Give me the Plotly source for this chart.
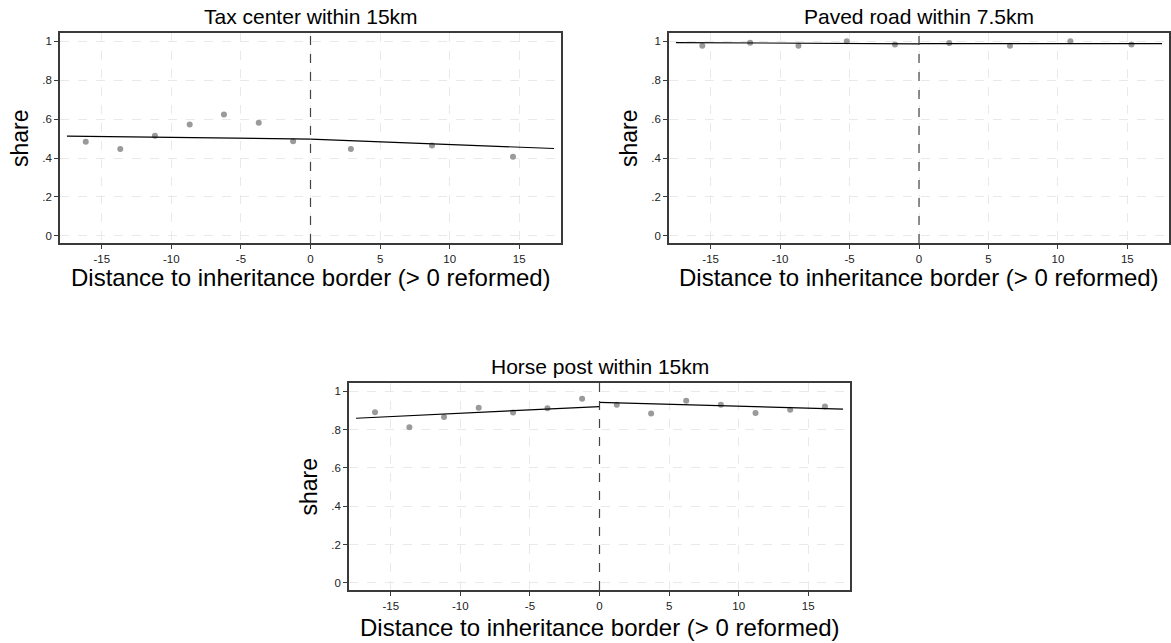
import plotly.graph_objects as go

# ---------------- data ----------------
titles = ["Tax center within 15km", "Paved road within 7.5km", "Horse post within 15km"]

tax_x = [-16.15, -13.67, -11.18, -8.68, -6.22, -3.72, -1.25, 2.9, 8.73, 14.55]
tax_y = [0.484, 0.446, 0.514, 0.573, 0.624, 0.581, 0.486, 0.446, 0.465, 0.406]
tax_fit_left_x = [-17.5, 0]
tax_fit_left_y = [0.513, 0.497]
tax_fit_right_x = [0, 17.5]
tax_fit_right_y = [0.497, 0.449]

road_x = [-15.6, -12.16, -8.68, -5.2, -1.73, 2.18, 6.55, 10.9, 15.3]
road_y = [0.978, 0.993, 0.978, 1.0, 0.984, 0.991, 0.977, 1.0, 0.984]
road_fit_left_x = [-17.5, 0]
road_fit_left_y = [0.994, 0.987]
road_fit_right_x = [0, 17.5]
road_fit_right_y = [0.988, 0.988]

horse_x = [-16.13, -13.66, -11.17, -8.68, -6.21, -3.74, -1.25, 1.24, 3.71, 6.23, 8.72, 11.21, 13.70, 16.2]
horse_y = [0.890, 0.812, 0.865, 0.914, 0.889, 0.911, 0.961, 0.930, 0.884, 0.950, 0.930, 0.887, 0.904, 0.920]
horse_fit_left_x = [-17.5, 0]
horse_fit_left_y = [0.859, 0.920]
horse_fit_right_x = [0, 17.5]
horse_fit_right_y = [0.942, 0.907]

x_ticks = [-15, -10, -5, 0, 5, 10, 15]
x_tick_labels = ["-15", "-10", "-5", "0", "5", "10", "15"]
y_ticks = [0, 0.2, 0.4, 0.6, 0.8, 1.0]
y_tick_labels = ["0", ".2", ".4", ".6", ".8", "1"]

xlabel = "Distance to inheritance border (> 0 reformed)"
ylabel = "share"

# ---------------- layout geometry ----------------
W, H = 1171, 643
panels = [
    dict(x0=60, x1=561, y0=33, y1=243, xl=35),
    dict(x0=669, x1=1169, y0=33, y1=243, xl=35),
    dict(x0=349, x1=850, y0=383, y1=590, xl=37),
]
series = [
    (tax_x, tax_y, tax_fit_left_x, tax_fit_left_y, tax_fit_right_x, tax_fit_right_y),
    (road_x, road_y, road_fit_left_x, road_fit_left_y, road_fit_right_x, road_fit_right_y),
    (horse_x, horse_y, horse_fit_left_x, horse_fit_left_y, horse_fit_right_x, horse_fit_right_y),
]

fig = go.Figure()
FONT = "Liberation Sans, Arial, sans-serif"
annotations = []
shapes = []

for i, (p, s) in enumerate(zip(panels, series)):
    n = "" if i == 0 else str(i + 1)
    xa, ya = "x" + n, "y" + n
    px, py, lx, ly, rx, ry = s
    fig.add_trace(go.Scatter(x=px, y=py, mode="markers", xaxis=xa, yaxis=ya,
                             marker=dict(color="#9a9a9a", size=6), showlegend=False))
    fig.add_trace(go.Scatter(x=lx, y=ly, mode="lines", xaxis=xa, yaxis=ya,
                             line=dict(color="black", width=1.2), showlegend=False))
    fig.add_trace(go.Scatter(x=rx, y=ry, mode="lines", xaxis=xa, yaxis=ya,
                             line=dict(color="black", width=1.2), showlegend=False))

    axcommon = dict(showgrid=True, gridcolor="#e9e9e9", griddash="dash", gridwidth=1,
                    zeroline=False, showline=True, linecolor="#3a3a3a", linewidth=1.5,
                    mirror=True, ticks="outside", ticklen=4, tickcolor="#3a3a3a",
                    tickfont=dict(family=FONT, size=11.5, color="#222"))
    fig.layout["xaxis" + n] = dict(
        axcommon, domain=[p["x0"] / W, p["x1"] / W], range=[-18, 18],
        tickvals=x_ticks, ticktext=x_tick_labels, anchor=ya)
    fig.layout["yaxis" + n] = dict(
        axcommon, domain=[1 - p["y1"] / H, 1 - p["y0"] / H], range=[-0.037, 1.043],
        tickvals=y_ticks, ticktext=y_tick_labels, anchor=xa)

    shapes.append(dict(type="line", xref=xa, yref=ya + " domain", x0=0, x1=0, y0=0, y1=1,
                       line=dict(color="#444", width=1.2, dash="dash")))

    cx = (p["x0"] + p["x1"]) / 2 / W
    annotations.append(dict(text=titles[i], x=cx, y=1 - (p["y0"] - 17) / H, xref="paper",
                            yref="paper", showarrow=False, xanchor="center", yanchor="middle",
                            font=dict(family=FONT, size=21, color="black")))
    annotations.append(dict(text=xlabel, x=cx, y=1 - (p["y1"] + p["xl"]) / H, xref="paper",
                            yref="paper", showarrow=False, xanchor="center", yanchor="middle",
                            borderpad=0,
                            font=dict(family=FONT, size=24, color="black")))
    annotations.append(dict(text=ylabel, x=(p["x0"] - 40) / W, y=1 - (p["y0"] + p["y1"]) / 2 / H,
                            xref="paper", yref="paper", showarrow=False, textangle=-90,
                            xanchor="center", yanchor="middle",
                            font=dict(family=FONT, size=23, color="black")))

fig.update_layout(width=W, height=H, margin=dict(l=0, r=0, t=0, b=0),
                  plot_bgcolor="white", paper_bgcolor="white",
                  annotations=annotations, shapes=shapes)

fig.write_html("out.html", config={"displayModeBar": False},
               post_script="document.body.style.margin='0px';document.body.style.overflow='hidden';")
